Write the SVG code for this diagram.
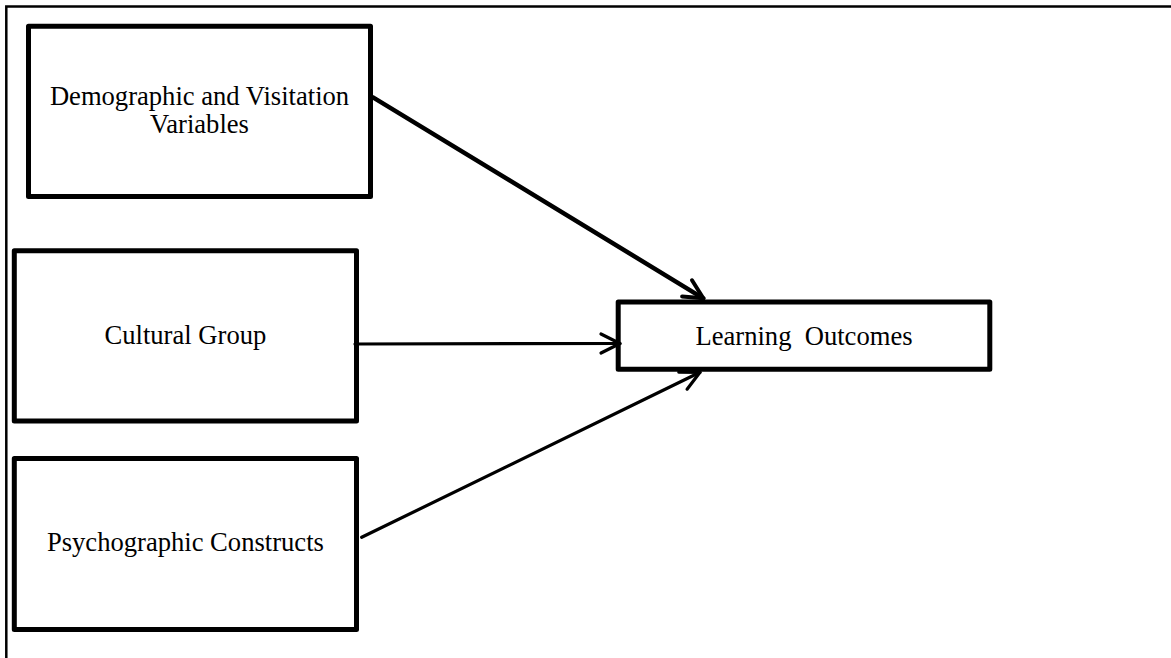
<svg xmlns="http://www.w3.org/2000/svg" width="1171" height="658" viewBox="0 0 1171 658">
<defs>
<style>
.box{fill:#fff;stroke:#000;stroke-width:5;stroke-linejoin:round}
.lbl{font-family:"Liberation Serif","Times New Roman",serif;font-size:26.6px;fill:#000;text-anchor:middle}
.edge{fill:none;stroke:#000;stroke-linecap:round}
.frame{fill:none;stroke:#000;stroke-width:2.5}
</style>
<marker id="ah" markerUnits="userSpaceOnUse" viewBox="-24 -14 28 28" refX="0" refY="0" markerWidth="28" markerHeight="28" orient="auto">
<path d="M-19,-9.5 L0,0 L-19,9.5" fill="none" stroke="#000" stroke-width="4" stroke-linecap="round" stroke-linejoin="round"/>
</marker>
<marker id="ah2" markerUnits="userSpaceOnUse" viewBox="-24 -14 28 28" refX="0" refY="0" markerWidth="28" markerHeight="28" orient="auto">
<path d="M-19,-9.5 L0,0 L-19,9.5" fill="none" stroke="#000" stroke-width="3.2" stroke-linecap="round" stroke-linejoin="round"/>
</marker>
</defs>
<rect width="1171" height="658" fill="#fff"/>
<path class="frame" d="M6.3,658 V6.5 H1171"/>
<g id="node-demographic">
<rect class="box" x="28.5" y="26.3" width="342" height="170.2"/>
<text class="lbl" x="199.5" y="105">Demographic and Visitation</text>
<text class="lbl" x="199.5" y="133">Variables</text>
</g>
<g id="node-cultural">
<rect class="box" x="14.3" y="250.7" width="342.2" height="170.3"/>
<text class="lbl" x="185.4" y="344">Cultural Group</text>
</g>
<g id="node-psychographic">
<rect class="box" x="14.3" y="458.5" width="342.2" height="171"/>
<text class="lbl" x="185.4" y="551">Psychographic Constructs</text>
</g>
<g id="node-learning">
<rect class="box" x="618.2" y="302" width="371.6" height="67.2"/>
<text class="lbl" x="804" y="345" xml:space="preserve">Learning  Outcomes</text>
</g>
<g id="connectors">
<path class="edge" d="M373,97.3 L703.3,298.3" stroke-width="4.5" marker-end="url(#ah)"/>
<path class="edge" d="M355,344 L620,343.5" stroke-width="3.2" marker-end="url(#ah2)"/>
<path class="edge" d="M361.7,537.3 L700,372.3" stroke-width="3.2" marker-end="url(#ah2)"/>
</g>
</svg>
